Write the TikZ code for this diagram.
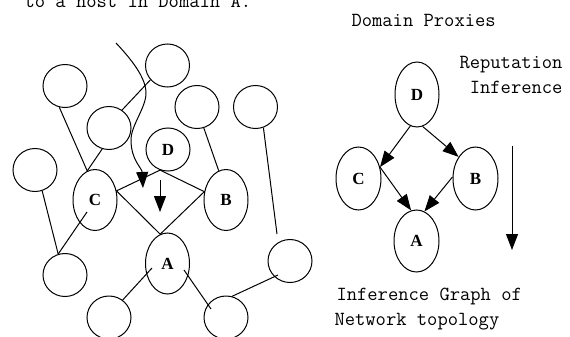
\documentclass[tikz,border=0pt]{standalone}
\usepackage{fontspec}
\newfontfamily\timesfont{Liberation Serif}
\usetikzlibrary{shapes.geometric,arrows.meta,calc}
\begin{document}
\begin{tikzpicture}[x=1pt,y=-1pt, line width=1pt,
 host/.style={draw, ellipse, inner sep=0pt, minimum width=44pt, minimum height=43pt,
   font=\timesfont\bfseries\fontsize{17}{18}\selectfont},
 dom/.style={host, minimum height=61pt},
 captext/.style={font=\ttfamily\fontsize{20}{22}\selectfont, inner sep=0pt},
 arr/.style={-{Triangle[width=12pt,length=16pt]}},
]
\useasboundingbox (0,0) rectangle (570,337);
\fill[white] (0,0) rectangle (570,337);

% left graph: hosts
\node[host] (n1) at (65,86) {};
\node[host] (n2) at (167.5,65.5) {};
\node[host] (n3) at (109,128) {};
\node[host] (n4) at (197,107) {};
\node[host] (n5) at (255.5,107) {};
\node[host] (D) at (168,149.5) {D};
\node[host] (n6) at (35,170) {};
\node[dom] (C) at (95,200) {C};
\node[dom] (B) at (226,200) {B};
\node[dom] (A) at (167.5,263.5) {A};
\node[host] (n7) at (65,275) {};
\node[host] (n8) at (109,317.5) {};
\node[host] (n9) at (226,317.5) {};
\node[host] (n10) at (290,261) {};

% left graph: links
\draw (n1.-105) -- (C.105);
\draw (n3.-108) -- (C.105);
\draw (n3.54) -- (n2.220);
\draw (n4.-72) -- (B.104);
\coordinate (e5) at (277,234);
\draw (n5.-69) -- (e5);
\draw (n6.-71) -- (n7.108);
\draw ($(C.center)+(-8,12)$) -- (n7.108);
\draw ($(A.center)+(-15.5,4.5)$) -- (n8.52);
\draw ($(A.center)+(16.5,6.5)$) -- ($(n9.center)+(-15,-8.5)$);
\draw ($(n10.center)+(-12,14)$) -- (n9.74);

% diamond of domain proxies
\draw (D.-111) -- (C.23) -- (A.104) -- (B.159) -- cycle;

% curved arrow
\coordinate (cs) at (116,43);
\coordinate (ct) at (143,188);
\draw[arr] (cs) .. controls (132,60) and (146,78) .. (146,93)
  .. controls (146,108) and (131,125) .. (131,140)
  .. controls (131,160) and (142,168) .. (ct);

% small vertical arrow
\coordinate (vs) at (160,180);
\coordinate (vt) at (160,212);
\draw[arr] (vs) -- (vt);

% right graph
\node[dom, minimum height=65pt] (RD) at (417,94.5) {D};
\node[dom, minimum height=63pt, minimum width=45pt] (RC) at (358.5,178.5) {C};
\node[dom, minimum height=63pt, minimum width=45pt] (RB) at (475.5,178.5) {B};
\node[dom, minimum height=62pt, minimum width=45pt] (RA) at (416.5,241) {A};
\draw[arr] (RD.-102) -- (RC.28);
\draw[arr] (RD.-80) -- (RB.128);
\draw[arr] (RC.28) -- (RA.100);
\draw[arr] (RB.176) -- (RA.75);
\coordinate (rvs) at (512,146);
\coordinate (rvt) at (512,250);
\draw[arr] (rvs) -- (rvt);

% texts
\node[captext, anchor=base west] (t1) at (24,8) {to a host in Domain A.};
\node[captext, anchor=base west] (t2) at (351,27) {Domain Proxies};
\node[captext, anchor=base east] (t3) at (563,68) {Reputation};
\node[captext, anchor=base east] (t4) at (563,93) {Inference};
\node[captext, anchor=base west] (t5) at (336,300) {Inference Graph of};
\node[captext, anchor=base west] (t6) at (334,325) {Network topology};
\end{tikzpicture}
\end{document}
